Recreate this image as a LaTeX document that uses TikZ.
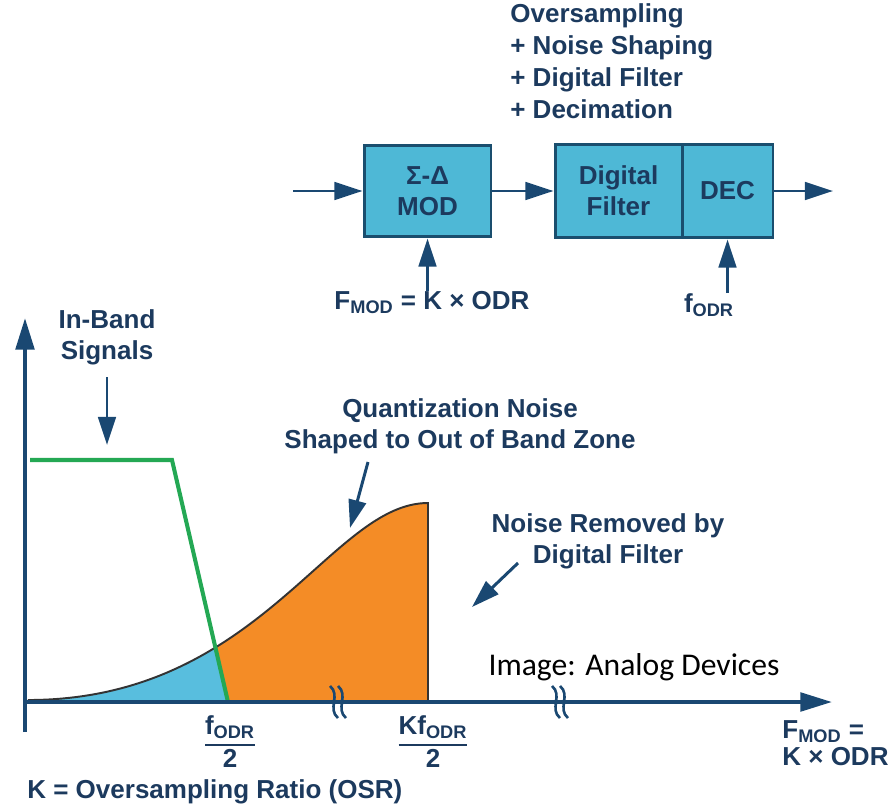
\documentclass[tikz,border=0pt]{standalone}
\usepackage{fontspec}
\setmainfont{Liberation Sans}
\newfontfamily\credfont{Carlito}
\usepackage{tikz}
\usetikzlibrary{positioning,arrows.meta}
\definecolor{NavyText}{RGB}{28,58,94}
\definecolor{NavyLine}{RGB}{26,72,114}
\definecolor{BoxFill}{RGB}{78,184,214}
\definecolor{BoxEdge}{RGB}{26,78,110}
\definecolor{NoiseBlue}{RGB}{88,190,222}
\definecolor{NoiseOrange}{RGB}{244,140,38}
\definecolor{BandGreen}{RGB}{36,168,84}
\newcommand{\lblsize}{\fontsize{14.8}{17.6}\selectfont\bfseries}
\newcommand{\tightsize}{\fontsize{14.8}{15.4}\selectfont\bfseries}
\newcommand{\loosesize}{\fontsize{14.8}{18.3}\selectfont\bfseries}
\setlength{\arrayrulewidth}{1.4pt}

\begin{document}
\begin{tikzpicture}[x=0.02cm, y=-0.02cm,
    lbl/.style={font=\lblsize, text=NavyText, align=center, inner sep=0pt},
    blk/.style={draw=BoxEdge, fill=BoxFill, line width=1.7pt, font=\lblsize, text=NavyText, align=center, inner sep=0pt},
    arr/.style={draw=NavyLine, line width=1.7pt, -{Triangle[length=16pt,width=10pt]}},
    axis/.style={draw=NavyLine, line width=2.3pt, -{Triangle[length=18pt,width=10.5pt]}}]
    \useasboundingbox (0,0) rectangle (895,811);

    % block diagram
    \node[lbl, align=left, anchor=north west, font=\loosesize] (osr) at (510,3) {Oversampling\\+ Noise Shaping\\+ Digital Filter\\+ Decimation};
    \node[blk, minimum width=2.54cm, minimum height=1.84cm] (mod) at (427.5,191) {Σ-Δ\\MOD};
    \node[blk, minimum width=2.54cm, minimum height=1.88cm] (filt) at (618.5,191) {Digital\\Filter};
    \node[blk, minimum width=1.82cm, minimum height=1.88cm] (dec) at (727.5,191) {DEC};
    \coordinate (in) at (293,191);
    \coordinate (out) at (833,191);
    \draw[arr] (in) -- (mod);
    \draw[arr] (mod.east) -- (filt.west);
    \draw[arr] (dec.east) -- (out);
    \node[lbl] (fmod) at (432,303) {F\textsubscript{MOD} = K × ODR};
    \node[lbl] (fodr) at (709,305) {f\textsubscript{ODR}};
    \draw[arr] (mod.south |- fmod.north) -- (mod.south);
    \draw[arr] (dec.south |- fodr.north) -- (dec.south);

    % spectrum
    \coordinate (o) at (25,702);
    \coordinate (ytop) at (25,318);
    \coordinate (ybot) at (25,732);
    \coordinate (xend) at (832,702);
    \coordinate (n0) at (28,700);
    \coordinate (npk) at (428,503);
    \coordinate (g0) at (30,460);
    \coordinate (g1) at (172,460);
    \coordinate (g2) at (228,702);
    \fill[NoiseOrange] (n0) .. controls (260,700) and (330,503) .. (npk) -- (428,702) -- (28,702) -- cycle;
    \begin{scope}
      \clip (25,300) -- (135,300) -- (g2) -- (25,702) -- cycle;
      \fill[NoiseBlue] (n0) .. controls (260,700) and (330,503) .. (npk) -- (428,702) -- (28,702) -- cycle;
    \end{scope}
    \draw[line width=1.1pt, black!80] (n0) .. controls (260,700) and (330,503) .. (npk) -- (428,702);
    \draw[BandGreen, line width=2.3pt] (g0) -- (g1) -- (g2);
    \draw[axis] (ybot) -- (ytop);
    \draw[axis] (o) -- (xend);
    \foreach \bx in {338,560} {
      \foreach \dx in {-4,4} {
        \draw[NavyLine, line width=1.5pt] (\bx+\dx-4,686) .. controls (\bx+\dx+7,695) and (\bx+\dx-7,709) .. (\bx+\dx+4,718);
      }
    }

    % annotations
    \node[lbl] (inband) at (107,337) {In-Band\\Signals};
    \coordinate (sigtip) at (107,445);
    \draw[arr, shorten <=7pt] (inband) -- (sigtip);
    \node[lbl] (qnoise) at (460,426) {Quantization Noise\\Shaped to Out of Band Zone};
    \coordinate (qtail) at (368,462);
    \coordinate (qtip) at (350,528);
    \draw[arr] (qtail) -- (qtip);
    \node[lbl] (nrem) at (608,541) {Noise Removed by\\Digital Filter};
    \coordinate (rtail) at (518,563);
    \coordinate (rtip) at (472,607);
    \draw[arr] (rtail) -- (rtip);

    % axis labels
    \node[lbl] (half) at (230,745) {\begin{tabular}{@{}c@{}}f\textsubscript{ODR}\\\hline 2\end{tabular}};
    \node[lbl] (khalf) at (433,745) {\begin{tabular}{@{}c@{}}Kf\textsubscript{ODR}\\\hline 2\end{tabular}};
    \node[lbl, anchor=west] (kdef) at (27,792) {K = Oversampling Ratio (OSR)};
    \node[lbl, align=left, anchor=north west, font=\tightsize] (fmodax) at (782,720) {F\textsubscript{MOD} =\\K × ODR};
    \node[font=\credfont\fontsize{18}{21}\selectfont, text=black, inner sep=0pt] (credit) at (634,667) {Image: Analog Devices};
  \end{tikzpicture}
\end{document}
